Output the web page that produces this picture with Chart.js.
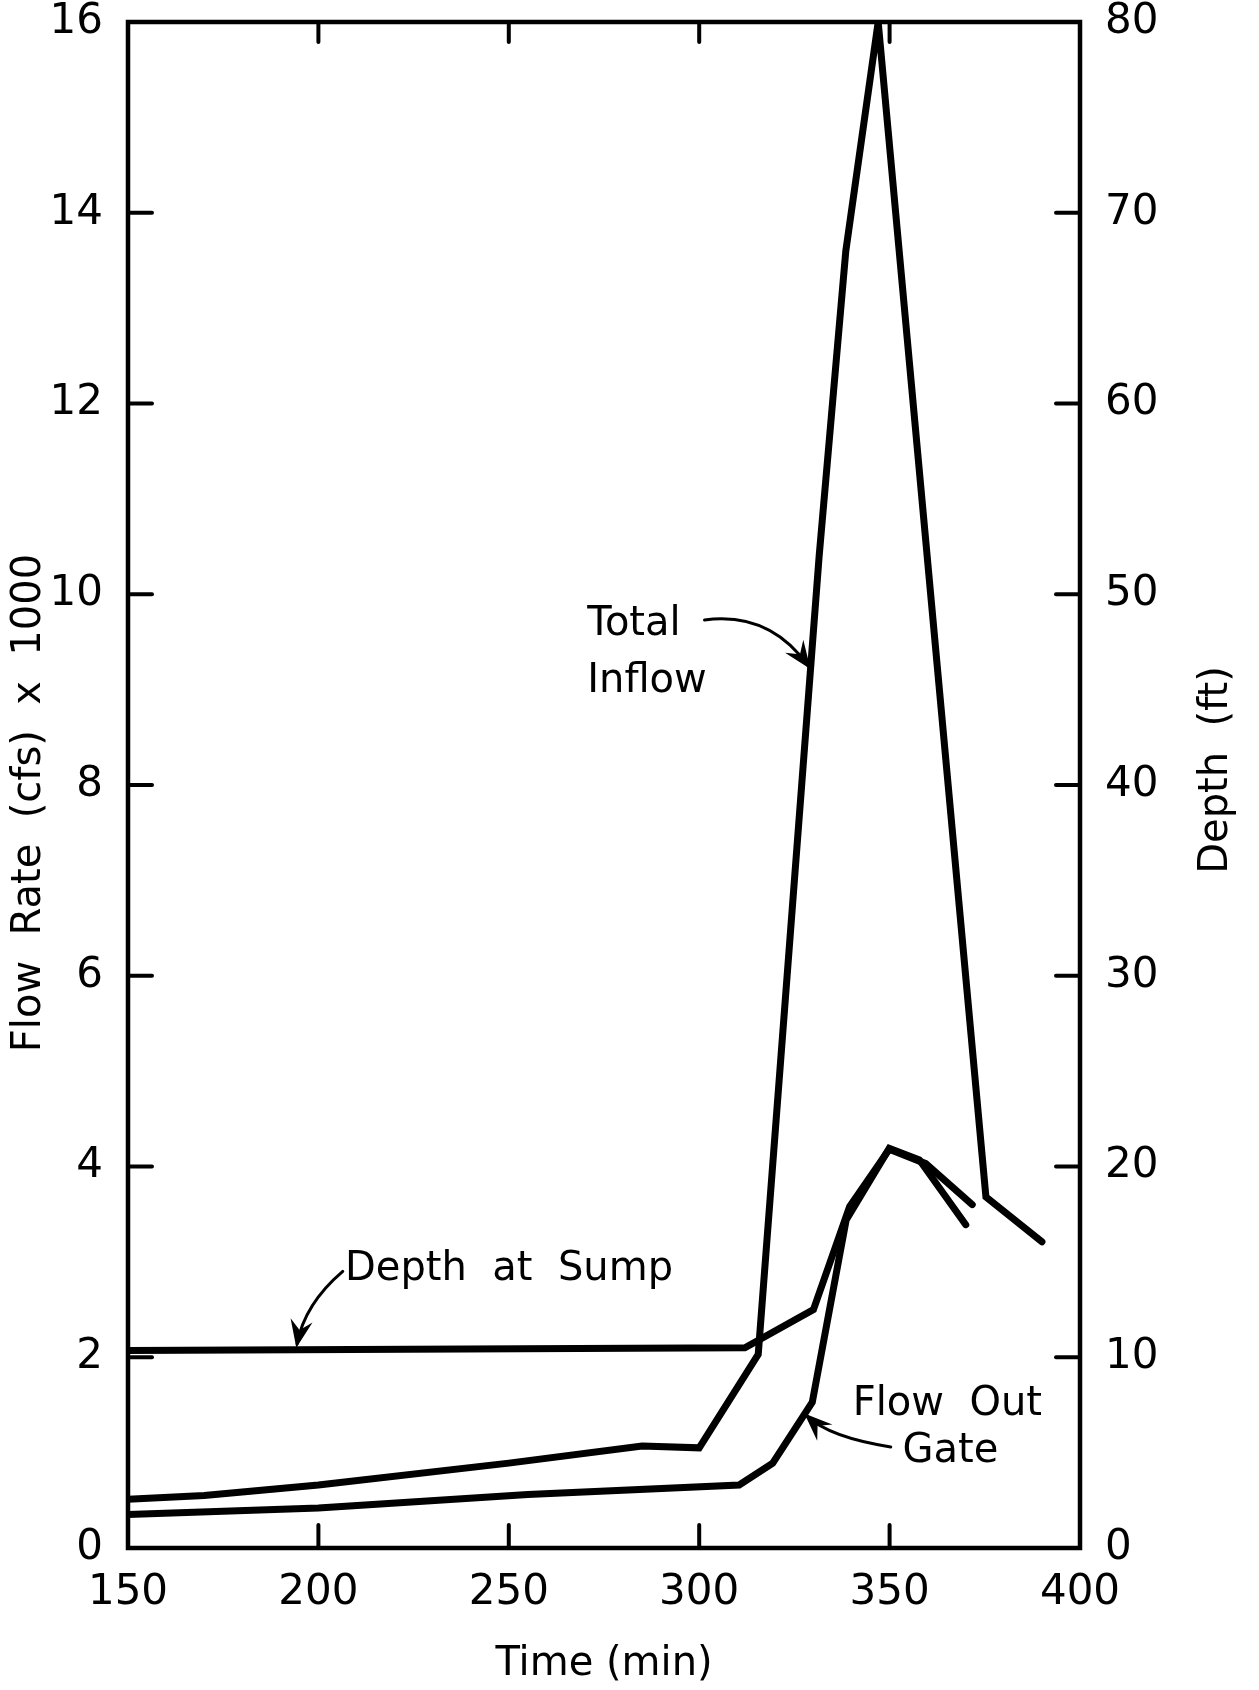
<!DOCTYPE html>
<html>
<head>
<meta charset="utf-8">
<script src="https://cdn.jsdelivr.net/npm/chart.js@4/dist/chart.umd.min.js"></script>
<style>
  body { margin: 0; background: #fff; }
  #wrap { width: 1259px; height: 1690px; }
</style>
</head>
<body>
<div id="wrap"><canvas id="flowChart" width="1259" height="1690"></canvas></div>
<script>
// time (min) / flow (cfs x 1000)
const inflowTime = [150, 170, 200, 250, 285, 300, 315.5, 331.5, 338.5, 347, 375.3, 390];
const inflowFlow = [0.51, 0.55, 0.66, 0.89, 1.07, 1.05, 2.03, 10.4, 13.6, 16.0, 3.68, 3.21];

const gateTime = [150, 200, 255, 310.5, 319.3, 329.7, 338.6, 349.9, 357.8, 370];
const gateFlow = [0.35, 0.42, 0.56, 0.66, 0.89, 1.53, 3.44, 4.19, 4.07, 3.39];

// depth at sump, right axis (ft)
const sumpTime = [150, 312, 330, 339.5, 349.9, 359.5, 371.7];
const sumpDepth = [10.35, 10.5, 12.5, 17.9, 20.9, 20.15, 18.0];

const timeTicks = [150, 200, 250, 300, 350, 400];
const flowTicks = [0, 2, 4, 6, 8, 10, 12, 14, 16];
const depthTicks = [0, 10, 20, 30, 40, 50, 60, 70, 80];

const FONT = "'DejaVu Sans', sans-serif";

function pairs(xs, ys) {
  return xs.map(function (x, i) { return { x: x, y: ys[i] }; });
}

// labels + arrows, placed in data units (time, flow)
const notes = [
  { text: 'Total', t: 270.6, q: 9.57 },
  { text: 'Inflow', t: 270.6, q: 8.98 },
  { text: 'Depth  at  Sump', t: 207, q: 2.81 },
  { text: 'Flow  Out', t: 340.3, q: 1.39 },
  { text: 'Gate', t: 353.4, q: 0.905 }
];
const arrows = [
  { from: [301.4, 9.73], ctrl: [318.4, 9.82], to: [328.6, 9.25] },
  { from: [206.4, 2.9], ctrl: [196.4, 2.56], to: [194.4, 2.14] },
  { from: [350.3, 1.06], ctrl: [334.3, 1.16], to: [328.4, 1.38] }
];

const framePlugin = {
  id: 'frame',
  afterDatasetsDraw: function (chart) {
    var ctx = chart.ctx, a = chart.chartArea, s = chart.scales;
    ctx.save();
    ctx.strokeStyle = '#000';
    ctx.lineWidth = 4.5;
    ctx.strokeRect(a.left, a.top, a.right - a.left, a.bottom - a.top);
    ctx.lineWidth = 4;
    ctx.lineCap = 'round';
    function seg(x1, y1, x2, y2) { ctx.beginPath(); ctx.moveTo(x1, y1); ctx.lineTo(x2, y2); ctx.stroke(); }
    timeTicks.slice(1, -1).forEach(function (v) {
      var px = s.x.getPixelForValue(v);
      seg(px, a.bottom, px, a.bottom - 23);
      seg(px, a.top, px, a.top + 20);
    });
    flowTicks.slice(1, -1).forEach(function (v) {
      var py = s.y.getPixelForValue(v);
      seg(a.left, py, a.left + 24, py);
    });
    depthTicks.slice(1, -1).forEach(function (v) {
      var py = s.y2.getPixelForValue(v);
      seg(a.right, py, a.right - 24, py);
    });
    // both side titles read bottom-to-top
    ctx.fillStyle = '#000';
    ctx.font = '40px ' + FONT;
    ctx.textAlign = 'center';
    ctx.textBaseline = 'middle';
    var mid = (a.top + a.bottom) / 2;
    ctx.save();
    ctx.translate(30, mid + 18);
    ctx.rotate(-Math.PI / 2);
    ctx.fillText('Flow  Rate  (cfs)  x  1000', 0, 0);
    ctx.restore();
    ctx.translate(1217, mid - 15);
    ctx.rotate(-Math.PI / 2);
    ctx.fillText('Depth  (ft)', 0, 0);
    ctx.restore();
  }
};

const notesPlugin = {
  id: 'notes',
  afterDraw: function (chart) {
    var ctx = chart.ctx, sx = chart.scales.x, sy = chart.scales.y;
    function P(p) { return [sx.getPixelForValue(p[0]), sy.getPixelForValue(p[1])]; }
    ctx.save();
    ctx.fillStyle = '#000';
    ctx.font = '40px ' + FONT;
    ctx.textAlign = 'left';
    ctx.textBaseline = 'alphabetic';
    notes.forEach(function (n) {
      ctx.fillText(n.text, sx.getPixelForValue(n.t), sy.getPixelForValue(n.q));
    });
    ctx.strokeStyle = '#000';
    ctx.lineWidth = 3;
    ctx.lineCap = 'round';
    arrows.forEach(function (ar) {
      var f = P(ar.from), c = P(ar.ctrl), t = P(ar.to);
      ctx.beginPath();
      ctx.moveTo(f[0], f[1]);
      ctx.quadraticCurveTo(c[0], c[1], t[0], t[1]);
      ctx.stroke();
      var ang = Math.atan2(t[1] - c[1], t[0] - c[0]);
      var len = 20, spread = 0.38;
      ctx.beginPath();
      ctx.moveTo(t[0] - len * Math.cos(ang - spread), t[1] - len * Math.sin(ang - spread));
      ctx.lineTo(t[0], t[1]);
      ctx.lineTo(t[0] - len * Math.cos(ang + spread), t[1] - len * Math.sin(ang + spread));
      ctx.lineTo(t[0] - len * 0.6 * Math.cos(ang), t[1] - len * 0.6 * Math.sin(ang));
      ctx.closePath();
      ctx.fill();
      ctx.stroke();
    });
    ctx.restore();
  }
};

function lineSet(label, data, axis) {
  return {
    label: label,
    data: data,
    yAxisID: axis,
    borderColor: '#000',
    backgroundColor: '#000',
    borderWidth: 7,
    pointRadius: 0,
    tension: 0,
    fill: false,
    borderCapStyle: 'round',
    borderJoinStyle: 'miter'
  };
}

const tickFont = { family: FONT, size: 42 };
const titleFont = { family: FONT, size: 40 };

new Chart(document.getElementById('flowChart').getContext('2d'), {
  type: 'line',
  data: {
    datasets: [
      lineSet('Total Inflow', pairs(inflowTime, inflowFlow), 'y'),
      lineSet('Flow Out Gate', pairs(gateTime, gateFlow), 'y'),
      lineSet('Depth at Sump', pairs(sumpTime, sumpDepth), 'y2')
    ]
  },
  options: {
    responsive: false,
    animation: false,
    devicePixelRatio: 1,
    layout: { padding: { top: 22, left: 0, right: 0, bottom: 0 } },
    plugins: { legend: { display: false }, tooltip: { enabled: false } },
    scales: {
      x: {
        type: 'linear', position: 'bottom', min: 150, max: 400,
        afterBuildTicks: function (s) { s.ticks = timeTicks.map(function (v) { return { value: v }; }); },
        ticks: { font: tickFont, color: '#000', padding: 20, maxRotation: 0, autoSkip: false },
        grid: { display: false, drawTicks: false },
        border: { display: false },
        title: { display: true, text: 'Time (min)', font: titleFont, color: '#000', padding: { top: 0, bottom: 1 } },
        afterFit: function (s) { s.height = 142; s.paddingLeft = 0; s.paddingRight = 0; }
      },
      y: {
        type: 'linear', position: 'left', min: 0, max: 16,
        afterBuildTicks: function (s) { s.ticks = flowTicks.map(function (v) { return { value: v }; }); },
        ticks: { font: tickFont, color: '#000', padding: 25, autoSkip: false },
        grid: { display: false, drawTicks: false },
        border: { display: false },
        afterFit: function (s) { s.width = 128; s.paddingTop = 0; s.paddingBottom = 0; }
      },
      y2: {
        type: 'linear', position: 'right', min: 0, max: 80,
        afterBuildTicks: function (s) { s.ticks = depthTicks.map(function (v) { return { value: v }; }); },
        ticks: { font: tickFont, color: '#000', padding: 25, autoSkip: false },
        grid: { display: false, drawTicks: false },
        border: { display: false },
        afterFit: function (s) { s.width = 179; s.paddingTop = 0; s.paddingBottom = 0; }
      }
    }
  },
  plugins: [framePlugin, notesPlugin]
});
</script>
</body>
</html>
